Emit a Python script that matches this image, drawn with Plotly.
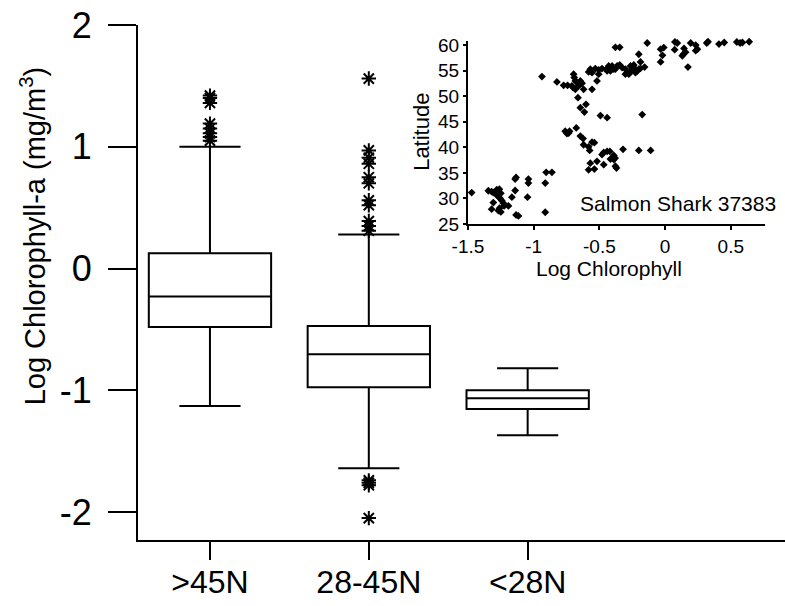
import plotly.graph_objects as go

# ---------------- Main box plot data ----------------
categories = [">45N", "28-45N", "<28N"]
q1 = [-0.48, -0.975, -1.155]
median = [-0.23, -0.705, -1.065]
q3 = [0.125, -0.472, -1.0]
lowerfence = [-1.13, -1.64, -1.37]
upperfence = [1.0, 0.28, -0.82]

outlier_cat = ([">45N"] * 8) + (["28-45N"] * 11) + (["28-45N"] * 4)
outlier_val = [1.05, 1.08, 1.11, 1.15, 1.19, 1.36, 1.40, 1.42,
               1.56, 0.97, 0.91, 0.86, 0.75, 0.70, 0.56, 0.52, 0.39, 0.35, 0.31,
               -1.74, -1.76, -1.78, -2.05]

y_ticks = [-2, -1, 0, 1, 2]
y_tick_text = ["-2", "-1", "0", "1", "2"]

# ---------------- Inset scatter data ----------------
chl = [
    -1.472, -1.345, -1.32, -1.307, -1.281, -1.261, -1.25, -1.29, -1.307, -1.32,
    -1.269, -1.256, -1.243, -1.23, -1.225, -1.26, -1.269, -1.25, -1.192, -1.166,
    -1.141, -1.141, -1.134, -1.134, -1.116, -1.04, -1.04, -1.047, -0.912, -0.905,
    -0.861, -0.912,
    -0.76, -0.747, -0.734, -0.727, -0.676, -0.645, -0.624, -0.62, -0.582, -0.574,
    -0.556, -0.538, -0.582, -0.538, -0.569, -0.518, -0.48, -0.467, -0.441, -0.42,
    -0.467, -0.416, -0.39, -0.37, -0.378, -0.32, -0.2, -0.11, -0.39, -0.38,
    -0.937, -0.823, -0.772, -0.742, -0.709, -0.696, -0.691, -0.683, -0.67, -0.7,
    -0.683, -0.658, -0.645, -0.632, -0.62, -0.556, -0.663, -0.645, -0.614, -0.602,
    -0.492, -0.441, -0.174,
    -0.582, -0.569, -0.556, -0.518, -0.531, -0.505, -0.505, -0.48, -0.441, -0.441,
    -0.429, -0.403, -0.378, -0.416, -0.39, -0.365, -0.345, -0.327, -0.302, -0.289,
    -0.276, -0.263, -0.25, -0.238, -0.225, -0.212, -0.2, -0.187, -0.263, -0.238,
    -0.302, -0.156, -0.2, -0.187,
    -0.378, -0.345, -0.136, -0.034, -0.01, -0.02, -0.034, 0.075, 0.093, 0.073,
    0.144, 0.156, 0.131, 0.139, 0.195, 0.174, 0.233, 0.246, 0.233, 0.317,
    0.327, 0.41, 0.45, 0.546, 0.571, 0.589, 0.64,
]
lat = [
    31.15, 31.5, 31.35, 31.15, 31.7, 31.8, 31.0, 30.9, 29.2, 27.9,
    30.37, 30.05, 29.58, 29.07, 28.54, 28.09, 27.62, 27.36, 28.54, 30.24,
    31.55, 33.79, 34.1, 26.77, 26.57, 33.79, 33.0, 30.24, 33.0, 35.1,
    35.1, 27.3,
    43.15, 42.7, 42.8, 43.15, 43.8, 42.2, 41.7, 40.5, 40.1, 39.4,
    41.0, 40.9, 35.6, 35.75, 36.9, 37.25, 38.57, 39.0, 39.2, 39.2,
    36.6, 37.7, 37.6, 35.95, 36.3, 39.6, 39.4, 39.4, 38.4, 37.9,
    53.84, 52.78, 52.13, 52.13, 52.0, 54.3, 53.65, 52.98, 52.66, 51.68,
    51.35, 52.0, 52.98, 52.53, 51.35, 51.35, 49.7, 47.75, 46.9, 48.4,
    46.2, 45.8, 46.4,
    54.75, 55.28, 54.6, 52.98, 55.4, 55.15, 54.3, 55.4, 54.95, 55.4,
    55.9, 55.9, 55.3, 54.95, 55.3, 55.9, 56.1, 55.6, 55.3, 54.6,
    54.3, 54.75, 55.3, 55.6, 54.6, 54.95, 55.3, 55.45, 55.9, 56.1,
    54.3, 55.7, 58.2, 56.7,
    59.55, 59.55, 60.4, 59.2, 59.5, 58.0, 56.7, 60.6, 60.4, 59.1,
    59.35, 58.6, 57.9, 58.2, 60.4, 55.7, 60.0, 59.2, 58.9, 60.4,
    60.65, 60.2, 60.5, 60.6, 60.4, 60.5, 60.65,
]
inset_x_ticks = [-1.5, -1, -0.5, 0, 0.5]
inset_x_text = ["-1.5", "-1", "-0.5", "0", "0.5"]
inset_y_ticks = [25, 30, 35, 40, 45, 50, 55, 60]

FONT = "Arial, Liberation Sans, sans-serif"

fig = go.Figure()

fig.add_trace(go.Box(
    x=categories, q1=q1, median=median, q3=q3,
    lowerfence=lowerfence, upperfence=upperfence,
    width=0.77, fillcolor="white",
    line=dict(color="black", width=2),
    boxpoints=False, hoverinfo="skip",
    xaxis="x", yaxis="y",
))

fig.add_trace(go.Scatter(
    x=outlier_cat, y=outlier_val, mode="markers",
    marker=dict(symbol="asterisk-open", size=12, color="black",
                line=dict(color="black", width=2)),
    xaxis="x", yaxis="y", hoverinfo="skip",
))

fig.add_trace(go.Scatter(
    x=chl, y=lat, mode="markers",
    marker=dict(symbol="diamond", size=6, color="black"),
    xaxis="x2", yaxis="y2", cliponaxis=False, hoverinfo="skip",
))

fig.update_layout(
    width=785, height=606,
    margin=dict(l=138, r=0, t=25, b=66),
    paper_bgcolor="white", plot_bgcolor="white",
    showlegend=False,
    font=dict(family=FONT, color="black"),
    xaxis=dict(
        type="category", categoryorder="array", categoryarray=categories,
        range=[-0.453, 3.62], showline=True, linecolor="black", linewidth=2,
        ticks="outside", ticklen=18, tickwidth=1.5, tickcolor="black",
        tickfont=dict(size=32, family=FONT), showgrid=False, zeroline=False,
        ticklabelstandoff=-5,
    ),
    yaxis=dict(
        range=[-2.23, 2.0], tickvals=y_ticks, ticktext=y_tick_text,
        showline=True, linecolor="black", linewidth=2,
        ticks="outside", ticklen=28, tickwidth=1.5, tickcolor="black",
        tickfont=dict(size=36, family=FONT), showgrid=False, zeroline=False,
        ticklabelstandoff=9,
    ),
    xaxis2=dict(
        domain=[0.510, 0.969], anchor="y2", range=[-1.5, 0.76],
        tickvals=inset_x_ticks, ticktext=inset_x_text,
        showline=True, linecolor="black", linewidth=2,
        ticks="outside", ticklen=4, tickwidth=1.5, tickcolor="black",
        tickfont=dict(size=19, family=FONT), showgrid=False, zeroline=False,
    ),
    yaxis2=dict(
        domain=[0.6136, 0.969], anchor="x2", range=[25, 60.8],
        tickvals=inset_y_ticks,
        showline=True, linecolor="black", linewidth=2,
        ticks="outside", ticklen=3, tickwidth=1.5, tickcolor="black",
        tickfont=dict(size=19, family=FONT), showgrid=False, zeroline=False,
    ),
    annotations=[
        dict(text="Log Chlorophyll-a (mg/m<sup>3</sup>)", xref="paper", yref="paper",
             x=-0.162, y=0.59, textangle=-90, showarrow=False,
             font=dict(size=29, family=FONT), xanchor="center", yanchor="middle"),
        dict(text="Log Chlorophyll", xref="paper", yref="paper",
             x=0.728, y=0.528, showarrow=False,
             font=dict(size=21, family=FONT), xanchor="center", yanchor="middle"),
        dict(text="Latitude", xref="paper", yref="paper",
             x=0.437, y=0.792, textangle=-90, showarrow=False,
             font=dict(size=22, family=FONT), xanchor="center", yanchor="middle"),
        dict(text="Salmon Shark 37383", xref="paper", yref="paper",
             x=0.989, y=0.654, showarrow=False,
             font=dict(size=21, family=FONT), xanchor="right", yanchor="middle"),
    ],
)

fig.write_html(
    "out.html",
    config={"displayModeBar": False},
    post_script="document.body.style.margin='0';document.body.style.padding='0';",
)
